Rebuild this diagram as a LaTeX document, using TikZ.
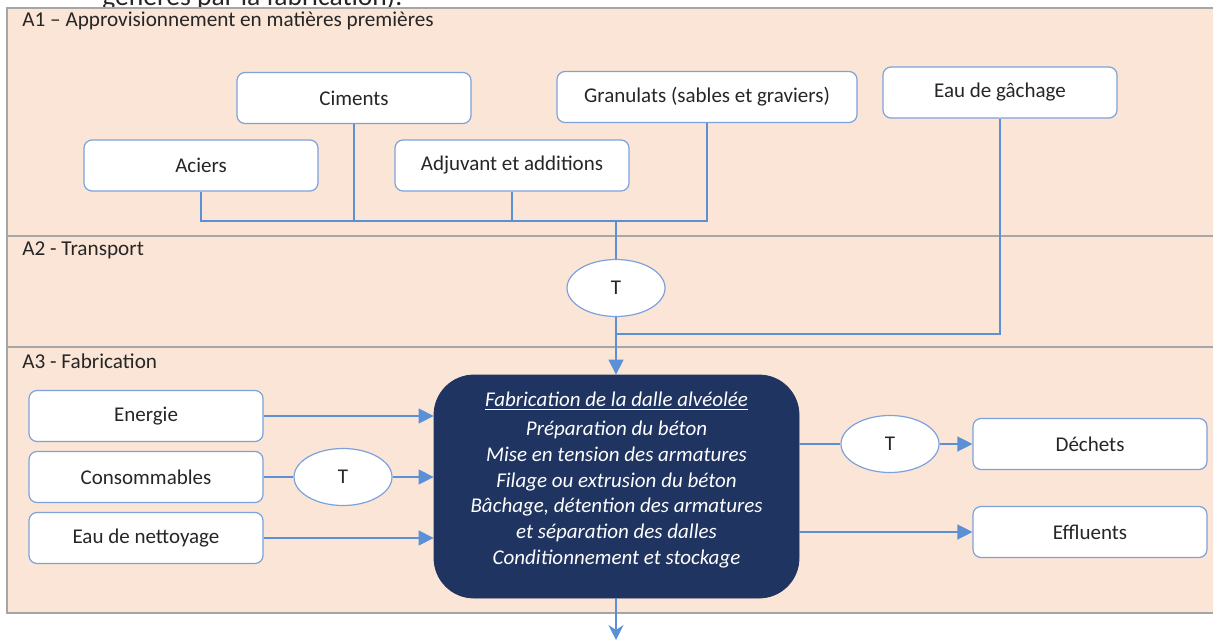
\documentclass[tikz,border=0pt]{standalone}
\usepackage{fontspec}
\setmainfont{Carlito}
\usetikzlibrary{arrows.meta,shapes.geometric}

\definecolor{lanefill}{HTML}{FBE5D6}
\definecolor{lanegray}{HTML}{A6A6A6}
\definecolor{boxblue}{HTML}{7DA2DB}
\definecolor{linkblue}{HTML}{5B8FD6}
\definecolor{navy}{HTML}{1F3460}
\definecolor{textgray}{HTML}{262626}

\begin{document}
\begin{tikzpicture}[x=0.5pt,y=-0.5pt,
    box/.style={draw=boxblue, line width=0.6pt, fill=white, rounded corners=4pt,
        minimum width=117pt, minimum height=25.5pt, inner sep=0pt,
        text=textgray, font=\fontsize{10.5}{12}\selectfont},
    tnode/.style={ellipse, draw=boxblue, line width=0.6pt, fill=white,
        minimum width=49pt, minimum height=28.5pt, inner sep=0pt,
        text=textgray, font=\fontsize{10.5}{12}\selectfont},
    lanelabel/.style={anchor=base west, inner sep=0pt, text=textgray,
        font=\fontsize{10.6}{12}\selectfont},
    lane/.style={draw=lanegray, line width=0.6pt},
    link/.style={draw=linkblue, line width=0.65pt},
    arr/.style={link, -{Triangle[length=7.5pt,width=7.5pt]}}]
\useasboundingbox (0,0) rectangle (1213,641);

% text cut off above the figure
\begin{scope}
\clip (0,0) rectangle (1213,8);
\node[anchor=base west, inner sep=0pt, text=textgray,
    font=\fontsize{13.8}{16}\selectfont] (prevtext) at (102,6) {générés par la fabrication).};
\end{scope}

% lanes
\fill[lanefill] (7,8) rectangle (1213,613);
\draw[lane] (1213,8) -- (7,8) -- (7,613) -- (1213,613);
\draw[lane] (7,236) -- (1213,236);
\draw[lane] (7,347) -- (1213,347);
\node[lanelabel] (laneA1) at (22,27) {A1 – Approvisionnement en matières premières};
\node[lanelabel] (laneA2) at (22,256) {A2 - Transport};
\node[lanelabel] (laneA3) at (22,368) {A3 - Fabrication};

% A1 matieres premieres
\node[box] (ciments) at (354,98) {Ciments};
\node[box, minimum width=150pt] (granulats) at (707,97) {Granulats (sables et graviers)};
\node[box] (gachage) at (1000,92.5) {Eau de gâchage};
\node[box] (aciers) at (201,165.5) {Aciers};
\node[box] (adjuvant) at (512,165.5) {Adjuvant et additions};

% A2 transport
\coordinate (bus) at (616,221);
\coordinate (merge) at (616,334);
\node[tnode] (ttrans) at (616,288) {T};

% A3 fabrication
\node[draw=navy, fill=navy, rounded corners=20pt, minimum width=182.5pt,
    minimum height=111.5pt] (fab) at (616.5,486.5) {};
\node[align=center, text=white, inner sep=0pt,
    font=\itshape\fontsize{10.5}{12.85}\selectfont] (fabtext) at ([yshift=3.25pt]fab.center)
    {\underline{Fabrication de la dalle alvéolée}\\[1.6pt]
     Préparation du béton\\
     Mise en tension des armatures\\
     Filage ou extrusion du béton\\
     Bâchage, détention des armatures\\
     et séparation des dalles\\
     Conditionnement et stockage};
\node[box] (energie) at (146,416) {Energie};
\node[box] (conso) at (146,477) {Consommables};
\node[box] (nettoyage) at (146,538) {Eau de nettoyage};
\node[tnode] (tconso) at (343,477) {T};
\node[tnode] (tdechets) at (890,444) {T};
\node[box] (dechets) at (1090,444) {Déchets};
\node[box] (effluents) at (1090,532) {Effluents};
\coordinate (out) at (616,640);

% connecteurs
\draw[link] (aciers.south) |- (granulats.south |- bus) -- (granulats.south);
\draw[link] (ciments.south) -- (ciments.south |- bus);
\draw[link] (adjuvant.south) -- (adjuvant.south |- bus);
\draw[link] (bus) -- (ttrans.north);
\draw[link] (gachage.south) |- (merge);
\draw[arr] (ttrans.south) -- (ttrans.south |- fab.north);
\draw[arr] (energie.east) -- (energie.east -| fab.west);
\draw[link] (conso.east) -- (tconso.west);
\draw[arr] (tconso.east) -- (tconso.east -| fab.west);
\draw[arr] (nettoyage.east) -- (nettoyage.east -| fab.west);
\draw[link] (tdechets.west -| fab.east) -- (tdechets.west);
\draw[arr] (tdechets.east) -- (dechets.west);
\draw[arr] (effluents.west -| fab.east) -- (effluents.west);
\draw[link, -{Stealth[length=7.5pt,width=7.5pt]}] (out |- fab.south) -- (out);
\end{tikzpicture}
\end{document}
